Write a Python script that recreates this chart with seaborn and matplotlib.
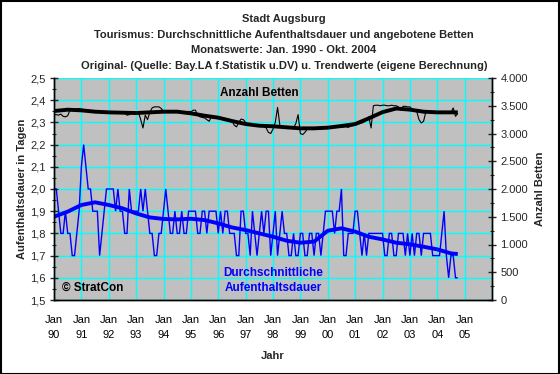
import numpy as np
import pandas as pd
import matplotlib
matplotlib.use("Agg")
import matplotlib.pyplot as plt
import seaborn as sns
from matplotlib.ticker import FuncFormatter, MultipleLocator, FixedLocator
from matplotlib.patches import Rectangle

# ---------------- data (monthly, Jan 1990 - Oct 2004) ----------------
dauer_1990 = [2.0, 2.0, 1.9, 1.8, 1.8, 1.9, 1.8, 1.8, 1.7, 1.7, 1.8, 1.9]
dauer_1991 = [2.1, 2.2, 2.1, 2.0, 2.0, 1.9, 1.9, 1.9, 1.7, 1.8, 1.9, 2.0]
dauer_1992 = [2.0, 2.0, 2.0, 1.9, 2.0, 1.9, 1.9, 1.8, 1.8, 2.0, 1.9, 1.9]
dauer_1993 = [1.9, 1.9, 2.0, 1.9, 2.0, 1.9, 1.8, 1.8, 1.7, 1.7, 1.8, 1.8]
dauer_1994 = [1.9, 2.0, 1.9, 1.8, 1.8, 1.9, 1.8, 1.8, 1.9, 1.8, 1.8, 1.9]
dauer_1995 = [1.9, 1.9, 1.9, 1.8, 1.8, 1.9, 1.9, 1.8, 1.9, 1.9, 1.9, 1.9]
dauer_1996 = [1.8, 1.9, 1.8, 1.9, 1.9, 1.8, 1.8, 1.8, 1.7, 1.7, 1.9, 1.9]
dauer_1997 = [1.8, 1.8, 1.7, 1.9, 1.8, 1.7, 1.8, 1.9, 1.8, 1.9, 1.9, 1.7]
dauer_1998 = [1.8, 1.9, 1.7, 1.8, 1.9, 1.8, 1.8, 1.7, 1.7, 1.8, 1.7, 1.7]
dauer_1999 = [1.8, 1.8, 1.7, 1.7, 1.8, 1.8, 1.7, 1.8, 1.8, 1.7, 1.8, 1.9]
dauer_2000 = [1.9, 1.9, 1.9, 1.8, 1.9, 1.9, 2.0, 1.7, 1.7, 1.8, 1.8, 1.8]
dauer_2001 = [1.9, 1.9, 1.8, 1.7, 1.8, 1.7, 1.8, 1.8, 1.8, 1.8, 1.8, 1.8]
dauer_2002 = [1.8, 1.7, 1.7, 1.8, 1.8, 1.7, 1.7, 1.8, 1.8, 1.8, 1.7, 1.8]
dauer_2003 = [1.7, 1.8, 1.7, 1.8, 1.8, 1.7, 1.8, 1.8, 1.8, 1.8, 1.7, 1.7]
dauer_2004 = [1.7, 1.7, 1.8, 1.9, 1.7, 1.6, 1.7, 1.7, 1.6, 1.6]

betten_1990 = [3340, 3340, 3330, 3350, 3310, 3300, 3320, 3420, 3440, 3440, 3440, 3450]
betten_1991 = [3440, 3430, 3430, 3420, 3410, 3400, 3400, 3400, 3410, 3390, 3380, 3390]
betten_1992 = [3380, 3380, 3380, 3370, 3370, 3380, 3360, 3370, 3330, 3340, 3370, 3380]
betten_1993 = [3380, 3390, 3250, 3100, 3330, 3250, 3380, 3460, 3480, 3480, 3480, 3450]
betten_1994 = [3400, 3400, 3390, 3390, 3390, 3400, 3390, 3390, 3390, 3360, 3370, 3400]
betten_1995 = [3390, 3420, 3420, 3330, 3300, 3290, 3280, 3250, 3220, 3300, 3310, 3300]
betten_1996 = [3290, 3290, 3280, 3270, 3260, 3250, 3230, 3150, 3120, 3200, 3260, 3250]
betten_1997 = [3200, 3170, 3160, 3150, 3150, 3140, 3140, 3130, 3130, 3100, 3020, 3000]
betten_1998 = [3080, 3200, 3470, 3150, 3120, 3110, 3110, 3120, 3110, 3100, 3180, 3340]
betten_1999 = [3000, 2980, 3020, 3080, 3080, 3090, 3080, 3090, 3090, 3080, 3090, 3100]
betten_2000 = [3100, 3110, 3110, 3120, 3120, 3120, 3110, 3120, 3120, 3110, 3130, 3140]
betten_2001 = [3150, 3170, 3180, 3190, 3210, 3260, 3300, 3100, 3500, 3510, 3510, 3500]
betten_2002 = [3510, 3510, 3500, 3500, 3510, 3500, 3500, 3480, 3420, 3490, 3490, 3480]
betten_2003 = [3480, 3440, 3420, 3400, 3250, 3190, 3220, 3390, 3390, 3390, 3380, 3380]
betten_2004 = [3380, 3380, 3380, 3380, 3380, 3370, 3380, 3460, 3310, 3360]

# trend values read every six months (last point: Oct 2004)
trend_month = [0, 6, 12, 18, 24, 30, 36, 42, 48, 54, 60, 66, 72, 78, 84, 90,
               96, 102, 108, 114, 120, 126, 132, 138, 144, 150, 156, 162,
               168, 174, 177]
dauer_trend = [1.875, 1.898, 1.928, 1.940, 1.928, 1.913, 1.890, 1.872, 1.865,
               1.863, 1.866, 1.860, 1.845, 1.827, 1.815, 1.800, 1.785, 1.767,
               1.758, 1.763, 1.812, 1.823, 1.808, 1.785, 1.773, 1.758, 1.751,
               1.740, 1.728, 1.710, 1.707]
betten_trend = [3405, 3429, 3417, 3393, 3381, 3375, 3369, 3381, 3393, 3393,
                3363, 3321, 3285, 3225, 3171, 3140, 3130, 3111, 3093, 3093,
                3105, 3135, 3170, 3273, 3385, 3450, 3430, 3393, 3381, 3381,
                3381]

year_labels = ["Jan\n90", "Jan\n91", "Jan\n92", "Jan\n93", "Jan\n94", "Jan\n95",
               "Jan\n96", "Jan\n97", "Jan\n98", "Jan\n99", "Jan\n00", "Jan\n01",
               "Jan\n02", "Jan\n03", "Jan\n04", "Jan\n05", ""]

dauer = (dauer_1990 + dauer_1991 + dauer_1992 + dauer_1993 + dauer_1994 +
         dauer_1995 + dauer_1996 + dauer_1997 + dauer_1998 + dauer_1999 +
         dauer_2000 + dauer_2001 + dauer_2002 + dauer_2003 + dauer_2004)
betten = (betten_1990 + betten_1991 + betten_1992 + betten_1993 + betten_1994 +
          betten_1995 + betten_1996 + betten_1997 + betten_1998 + betten_1999 +
          betten_2000 + betten_2001 + betten_2002 + betten_2003 + betten_2004)

raw = pd.DataFrame({"monat": np.arange(len(dauer)), "dauer": dauer, "betten": betten})
trend = pd.DataFrame({"monat": trend_month, "dauer": dauer_trend, "betten": betten_trend})

# ---------------- figure ----------------
sns.set_theme(style="white")
plt.rcParams["font.family"] = ["Liberation Sans", "DejaVu Sans"]

fig = plt.figure(figsize=(5.6, 3.74), dpi=100)
fig.patch.set_facecolor("white")
ax = fig.add_axes([54 / 560, 1 - 300 / 374, 438 / 560, 222 / 374])
ax.set_facecolor("#C0C0C0")
ax2 = ax.twinx()

BLUE = "#0000FF"
sns.lineplot(data=raw, x="monat", y="dauer", ax=ax, color=BLUE, linewidth=1.0,
             solid_capstyle="butt", solid_joinstyle="miter")
sns.lineplot(data=trend, x="monat", y="dauer", ax=ax, color=BLUE, linewidth=2.8,
             solid_capstyle="butt")
sns.lineplot(data=raw, x="monat", y="betten", ax=ax2, color="black", linewidth=0.8,
             solid_capstyle="butt")
sns.lineplot(data=trend, x="monat", y="betten", ax=ax2, color="black", linewidth=2.8,
             solid_capstyle="butt")

ax.set_xlim(0, 192)
ax.set_ylim(1.5, 2.5)
ax2.set_ylim(0, 4000)

ax.xaxis.set_major_locator(FixedLocator(np.arange(0, 193, 12)))
ax.set_xticklabels(year_labels)
ax.xaxis.set_minor_locator(MultipleLocator(1))
ax.yaxis.set_major_locator(MultipleLocator(0.1))
ax.yaxis.set_minor_locator(MultipleLocator(0.05))
ax.yaxis.set_major_formatter(FuncFormatter(lambda v, p: f"{v:.1f}".replace(".", ",")))
ax2.yaxis.set_major_locator(MultipleLocator(500))
ax2.yaxis.set_minor_locator(MultipleLocator(250))
ax2.yaxis.set_major_formatter(FuncFormatter(lambda v, p: f"{int(v):,}".replace(",", ".")))

ax.grid(True, which="major", color="#00FFFF", linewidth=1.0)
ax.set_axisbelow(True)
ax2.grid(False)

for a in (ax, ax2):
    for s in a.spines.values():
        s.set_color("black")
        s.set_linewidth(1.0)
    a.spines["top"].set_visible(False)

ax.tick_params(axis="x", which="major", direction="inout", length=6, width=1,
               labelsize=8, pad=8, colors="black")
ax.tick_params(axis="x", which="minor", direction="out", length=1.5, width=0.8)
ax.tick_params(axis="y", which="major", direction="inout", length=6, width=1,
               labelsize=8, pad=3, left=True)
ax.tick_params(axis="y", which="minor", direction="inout", length=3, width=0.8, left=True)
ax2.tick_params(axis="y", which="major", direction="inout", length=6, width=1,
                labelsize=8, pad=3, right=True)
ax2.tick_params(axis="y", which="minor", direction="inout", length=3, width=0.8, right=True)
for lbl in ax.get_xticklabels():
    lbl.set_linespacing(1.6)

ax.set_xlabel("Jahr", fontsize=8, fontweight="bold", labelpad=8)
ax.set_ylabel("Aufenthaltsdauer in Tagen", fontsize=8, fontweight="bold", labelpad=2)
ax2.set_ylabel("Anzahl Betten", fontsize=8, fontweight="bold", labelpad=5)

title_lines = ["Stadt Augsburg",
               "Tourismus: Durchschnittliche Aufenthaltsdauer und angebotene Betten",
               "Monatswerte: Jan. 1990 - Okt. 2004",
               "Original- (Quelle: Bay.LA f.Statistik u.DV) u. Trendwerte (eigene Berechnung)"]
for i, t in enumerate(title_lines):
    fig.text(284 / 560, 1 - (19 + 15.7 * i) / 374, t, ha="center", va="center",
             fontsize=8, fontweight="bold")

ax.text(90, 2.432, "Anzahl Betten", ha="center", va="center",
        fontsize=8.5, fontweight="bold", color="black")
ax.text(96, 1.588, "Durchschnittliche\nAufenthaltsdauer", ha="center", va="center",
        fontsize=8.5, fontweight="bold", color=BLUE, linespacing=1.35)
ax.text(3.5, 1.555, "© StratCon", ha="left", va="center", fontsize=8.5,
        fontweight="bold", color="black")

fig.patches.append(Rectangle((0.001, 0.001), 0.997, 0.996, transform=fig.transFigure,
                             fill=False, edgecolor="black", linewidth=1.5))

fig.savefig("out.png", dpi=100)
